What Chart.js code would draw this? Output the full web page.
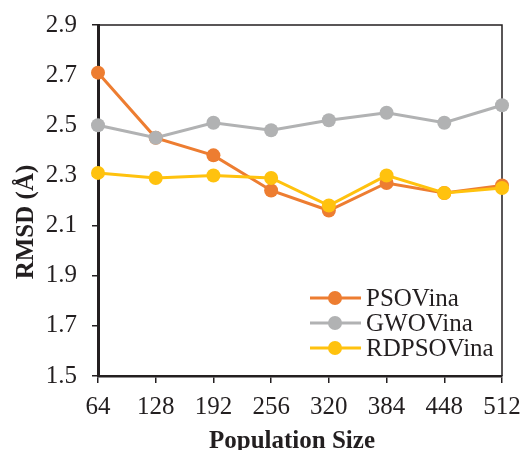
<!DOCTYPE html>
<html>
<head>
<meta charset="utf-8">
<script src="https://cdn.jsdelivr.net/npm/chart.js@4.4.0/dist/chart.umd.min.js"></script>
<style>
  html, body { margin: 0; padding: 0; background: #fff; }
  #wrap { width: 524px; height: 450px; }
</style>
</head>
<body>
<div id="wrap"><canvas id="chartRmsd" width="524" height="450"></canvas></div>
<script>
const tamanos = ['64', '128', '192', '256', '320', '384', '448', '512']
const psoVina = [2.71, 2.45, 2.38, 2.24, 2.16, 2.27, 2.23, 2.26]
const gwoVina = [2.50, 2.45, 2.51, 2.48, 2.52, 2.55, 2.51, 2.58]
const rdpsoVina = [2.31, 2.29, 2.30, 2.29, 2.18, 2.30, 2.23, 2.25]
const ticksY = [1.5, 1.7, 1.9, 2.1, 2.3, 2.5, 2.7, 2.9]
const nombres = ['PSOVina', 'GWOVina', 'RDPSOVina']
const colores = ['#ED7D31', '#B1B2B3', '#FFC20E']

const fuente = '"Liberation Serif", "Times New Roman", serif'
const tinta = '#231F20'

// marco fino arriba y a la derecha, titulos de ejes y leyenda dentro del area
const marcoYLeyenda = {
    id: 'marcoYLeyenda',
    beforeDatasetsDraw(chart) {
        const { ctx, chartArea } = chart
        ctx.save()
        ctx.strokeStyle = tinta
        ctx.lineWidth = 1.5
        ctx.beginPath()
        ctx.moveTo(chartArea.left, chartArea.top)
        ctx.lineTo(chartArea.right, chartArea.top)
        ctx.lineTo(chartArea.right, chartArea.bottom)
        ctx.stroke()

        ctx.fillStyle = tinta
        ctx.font = 'bold 25px ' + fuente
        ctx.textAlign = 'center'
        ctx.textBaseline = 'middle'
        ctx.fillText('Population Size', 292, 442)
        ctx.translate(27, 222)
        ctx.rotate(-Math.PI / 2)
        ctx.fillText('RMSD (Å)', 0, 0)
        ctx.restore()
    },
    afterDatasetsDraw(chart) {
        const { ctx } = chart
        ctx.save()
        ctx.font = '25px ' + fuente
        ctx.textBaseline = 'middle'
        chart.data.datasets.forEach((ds, i) => {
            const y = 298 + i * 25
            ctx.strokeStyle = ds.borderColor
            ctx.lineWidth = 3
            ctx.beginPath()
            ctx.moveTo(310, y)
            ctx.lineTo(361, y)
            ctx.stroke()
            ctx.fillStyle = ds.backgroundColor
            ctx.beginPath()
            ctx.arc(335, y, 7, 0, Math.PI * 2)
            ctx.fill()
            ctx.fillStyle = tinta
            ctx.fillText(ds.label, 366, y + 1)
        })
        ctx.restore()
    }
}

const series = [psoVina, gwoVina, rdpsoVina]

const canvas = document.getElementById('chartRmsd')
const context = canvas.getContext('2d')

const chartRmsd = new Chart(context, {
    type: 'line',
    data: {
        labels: tamanos,
        datasets: series.map((valores, i) => ({
            label: nombres[i],
            data: valores,
            borderColor: colores[i],
            backgroundColor: colores[i],
            borderWidth: 3,
            pointRadius: 7,
            pointHoverRadius: 7,
            pointBorderWidth: 0,
            tension: 0,
            order: 2 - i
        }))
    },
    options: {
        responsive: false,
        animation: false,
        devicePixelRatio: 1,
        layout: { padding: { left: 0, right: 22, top: 25, bottom: 0 } },
        plugins: {
            legend: { display: false },
            tooltip: { enabled: false }
        },
        scales: {
            x: {
                offset: false,
                afterFit: (scale) => {
                    scale.height = 74
                    scale.paddingLeft = 0
                    scale.paddingRight = 0
                },
                border: { display: true, color: tinta, width: 2.5 },
                grid: { drawOnChartArea: false, tickLength: 7, color: tinta, lineWidth: 1.5 },
                ticks: { color: tinta, font: { family: fuente, size: 25 }, padding: 9, maxRotation: 0, autoSkip: false }
            },
            y: {
                min: 1.5,
                max: 2.9,
                afterFit: (scale) => {
                    scale.width = 98
                    scale.paddingTop = 0
                    scale.paddingBottom = 0
                },
                afterBuildTicks: (scale) => {
                    scale.ticks = ticksY.map(v => ({ value: v }))
                },
                border: { display: true, color: tinta, width: 3 },
                grid: { drawOnChartArea: false, tickLength: 6, color: tinta, lineWidth: 1.5 },
                ticks: {
                    color: tinta,
                    font: { family: fuente, size: 25 },
                    padding: 15,
                    callback: (v) => Number(v).toFixed(1)
                }
            }
        }
    },
    plugins: [marcoYLeyenda]
})
</script>
</body>
</html>
